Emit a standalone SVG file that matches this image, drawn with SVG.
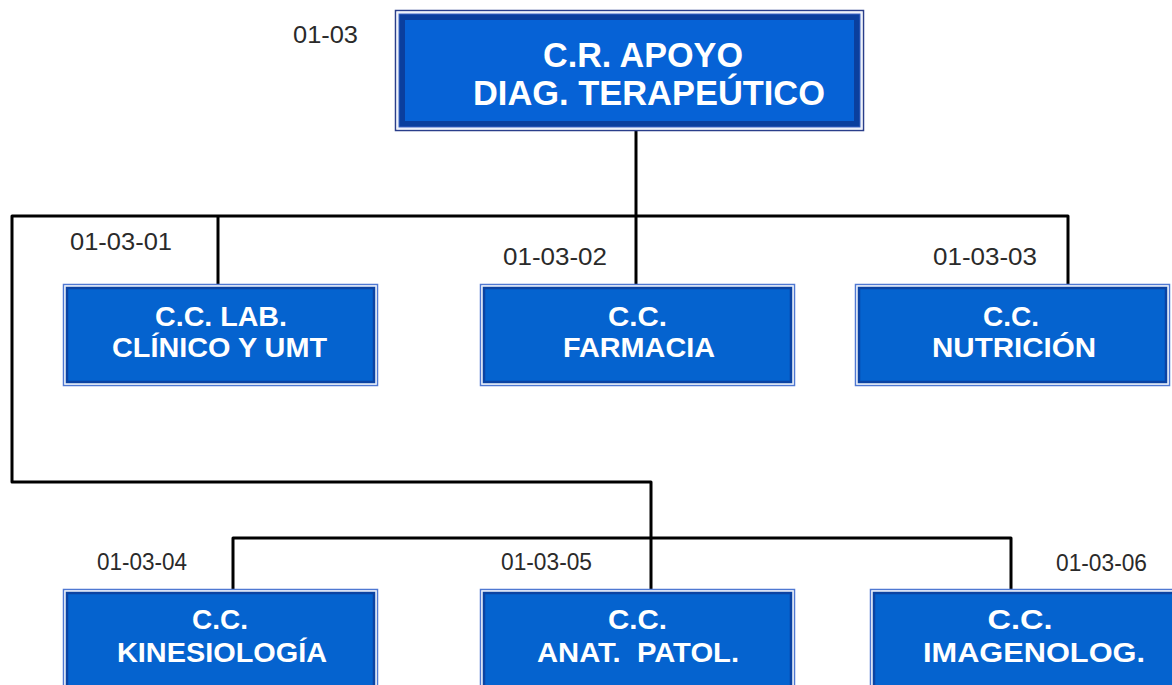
<svg xmlns="http://www.w3.org/2000/svg" width="1172" height="685" viewBox="0 0 1172 685">
<style>
.o{fill:none;stroke:#4f78d2;stroke-width:1.5}
.g{fill:none;stroke:#dfe8f8;stroke-width:1}
.b{fill:#0563cf;stroke:#0b43a3;stroke-width:2.5}
.t{font-family:"Liberation Sans",Arial,sans-serif;font-weight:bold;fill:#ffffff;text-anchor:middle}
.c{font-size:28px}
.h{font-size:35px}
.l{font-family:"Liberation Sans",Arial,sans-serif;font-size:23px;fill:#2a2a2a}
.k{fill:none;stroke:#000;stroke-width:3;stroke-linejoin:round}
</style>
<rect width="1172" height="685" fill="#ffffff"/>
<g id="connectors">
<path class="k" d="M636 130 V285"/>
<path class="k" d="M1068 285 V216 H12 V482 H651 V590"/>
<path class="k" d="M218 216 V285"/>
<path class="k" d="M233 590 V538 H1011 V590"/>
</g>
<g id="n0103">
<rect x="395.5" y="10.5" width="468" height="120" fill="none" stroke="#2a3e8a" stroke-width="1.5"/>
<rect x="397.5" y="12.5" width="464" height="116" fill="none" stroke="#eef2fb" stroke-width="1.5"/>
<rect x="402" y="17" width="455" height="107" fill="#0662d6" stroke="#0a3f9e" stroke-width="6"/>
<rect x="399" y="14" width="461" height="113" fill="none" stroke="#3a62c4" stroke-width="1"/>
<text class="t h" x="643" y="67" textLength="200" lengthAdjust="spacingAndGlyphs">C.R. APOYO</text>
<text class="t h" x="649" y="105" textLength="352" lengthAdjust="spacingAndGlyphs">DIAG. TERAPEÚTICO</text>
<text class="l" x="293" y="43" textLength="65" lengthAdjust="spacingAndGlyphs">01-03</text>
</g>
<g id="n010301">
<rect class="o" x="63.5" y="284.5" width="314" height="101"/>
<rect class="g" x="65" y="286" width="311" height="98"/>
<rect class="b" x="67" y="288" width="307" height="94"/>
<text class="t c" x="221" y="326" textLength="132" lengthAdjust="spacingAndGlyphs">C.C. LAB.</text>
<text class="t c" x="219.5" y="357" textLength="215" lengthAdjust="spacingAndGlyphs">CLÍNICO Y UMT</text>
<text class="l" x="70" y="250" textLength="102" lengthAdjust="spacingAndGlyphs">01-03-01</text>
</g>
<g id="n010302">
<rect class="o" x="480.5" y="284.5" width="314" height="101"/>
<rect class="g" x="482" y="286" width="311" height="98"/>
<rect class="b" x="484" y="288" width="307" height="94"/>
<text class="t c" x="637.5" y="326" textLength="59" lengthAdjust="spacingAndGlyphs">C.C.</text>
<text class="t c" x="639" y="357" textLength="152" lengthAdjust="spacingAndGlyphs">FARMACIA</text>
<text class="l" x="503" y="265" textLength="104" lengthAdjust="spacingAndGlyphs">01-03-02</text>
</g>
<g id="n010303">
<rect class="o" x="855.5" y="284.5" width="314" height="101"/>
<rect class="g" x="857" y="286" width="311" height="98"/>
<rect class="b" x="859" y="288" width="307" height="94"/>
<text class="t c" x="1011" y="326" textLength="56" lengthAdjust="spacingAndGlyphs">C.C.</text>
<text class="t c" x="1014" y="357" textLength="164" lengthAdjust="spacingAndGlyphs">NUTRICIÓN</text>
<text class="l" x="933" y="265" textLength="104" lengthAdjust="spacingAndGlyphs">01-03-03</text>
</g>
<g id="n010304">
<rect class="o" x="63.5" y="589.5" width="314" height="101"/>
<rect class="g" x="65" y="591" width="311" height="98"/>
<rect class="b" x="67" y="593" width="307" height="94"/>
<text class="t c" x="220" y="629" textLength="56" lengthAdjust="spacingAndGlyphs">C.C.</text>
<text class="t c" x="222" y="662" textLength="210" lengthAdjust="spacingAndGlyphs">KINESIOLOGÍA</text>
<text class="l" x="97" y="570" textLength="90" lengthAdjust="spacingAndGlyphs">01-03-04</text>
</g>
<g id="n010305">
<rect class="o" x="480.5" y="589.5" width="314" height="101"/>
<rect class="g" x="482" y="591" width="311" height="98"/>
<rect class="b" x="484" y="593" width="307" height="94"/>
<text class="t c" x="637.5" y="629" textLength="59" lengthAdjust="spacingAndGlyphs">C.C.</text>
<text class="t c" x="638" y="662" textLength="202" lengthAdjust="spacingAndGlyphs">ANAT.&#160; PATOL.</text>
<text class="l" x="501" y="570" textLength="91" lengthAdjust="spacingAndGlyphs">01-03-05</text>
</g>
<g id="n010306">
<rect class="o" x="870.5" y="589.5" width="314" height="101"/>
<rect class="g" x="872" y="591" width="311" height="98"/>
<rect class="b" x="874" y="593" width="307" height="94"/>
<text class="t c" x="1020" y="629" textLength="65" lengthAdjust="spacingAndGlyphs">C.C.</text>
<text class="t c" x="1034" y="662" textLength="222" lengthAdjust="spacingAndGlyphs">IMAGENOLOG.</text>
<text class="l" x="1056" y="571" textLength="91" lengthAdjust="spacingAndGlyphs">01-03-06</text>
</g>
</svg>
